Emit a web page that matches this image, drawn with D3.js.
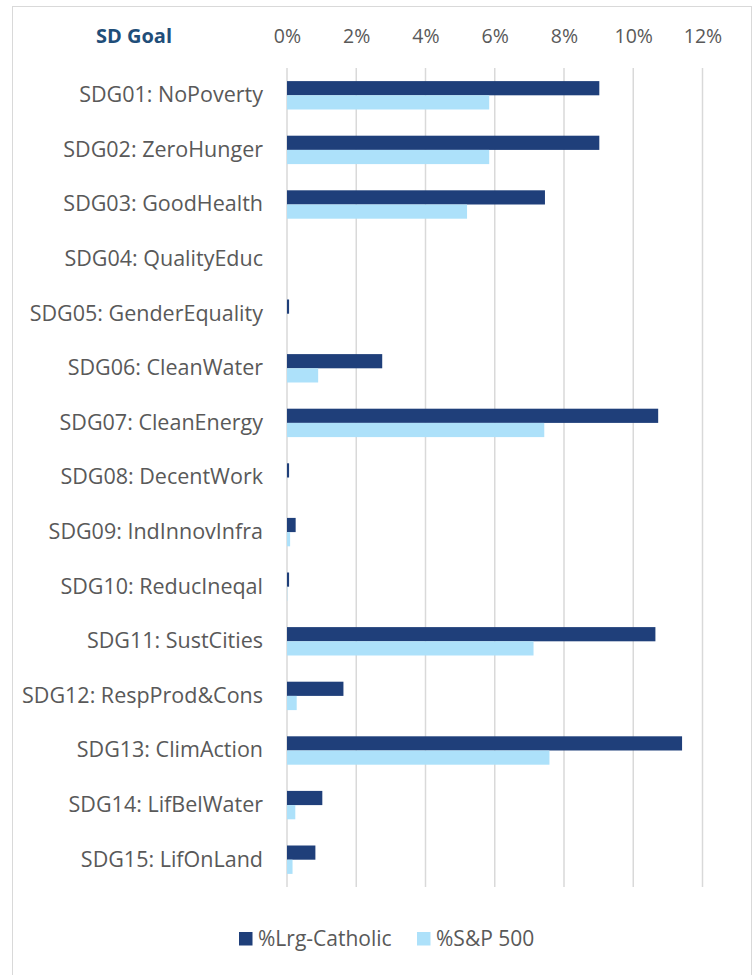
<!DOCTYPE html>
<html>
<head>
<meta charset="utf-8">
<script src="https://cdn.jsdelivr.net/npm/d3@7"></script>
<style>
  body { margin: 0; background: #fff; }
  svg { display: block; font-family: "Open Sans", Lato, sans-serif; }
</style>
</head>
<body>
<div id="chart"></div>
<script>
(function() {
  // data (percent)
  var goals = ["SDG01: NoPoverty", "SDG02: ZeroHunger", "SDG03: GoodHealth", "SDG04: QualityEduc",
    "SDG05: GenderEquality", "SDG06: CleanWater", "SDG07: CleanEnergy", "SDG08: DecentWork",
    "SDG09: IndInnovInfra", "SDG10: ReducIneqal", "SDG11: SustCities", "SDG12: RespProd&Cons",
    "SDG13: ClimAction", "SDG14: LifBelWater", "SDG15: LifOnLand"];
  var lrgCatholic = [9.02, 9.02, 7.45, 0, 0.06, 2.75, 10.72, 0.06, 0.25, 0.06, 10.64, 1.63, 11.41, 1.02, 0.82];
  var sp500 = [5.84, 5.84, 5.2, 0, 0, 0.9, 7.43, 0, 0.09, 0.01, 7.12, 0.28, 7.58, 0.24, 0.16];
  var seriesNames = ["%Lrg-Catholic", "%S&P 500"];
  var colors = ["#1F3F7A", "#ADE1FA"];
  var ticks = [0, 2, 4, 6, 8, 10, 12];

  var W = 753, H = 975;
  var fontFam = "'Open Sans', Lato, sans-serif";
  var svg = d3.select("#chart").append("svg")
    .attr("width", W).attr("height", H);

  // chart frame
  svg.append("rect")
    .attr("x", 12.5).attr("y", 6.5)
    .attr("width", 739).attr("height", 990)
    .attr("fill", "#fff")
    .attr("stroke", "#D9D9D9").attr("stroke-width", 1);

  var xScale = d3.scaleLinear().domain([0, 12]).range([287, 702.5]);
  var yScale = d3.scaleBand().domain(goals).range([68, 887])
    .paddingInner(0.48).paddingOuter(0.24);
  var sub = d3.scaleBand().domain([0, 1]).range([0, yScale.bandwidth()]);

  // gridlines
  svg.append("g").selectAll("line")
    .data(ticks).enter().append("line")
    .attr("x1", function(d) { return xScale(d); })
    .attr("x2", function(d) { return xScale(d); })
    .attr("y1", 68).attr("y2", 887)
    .attr("stroke", "#D9D9D9").attr("stroke-width", 1.5);

  // top axis labels
  var xAxis = d3.axisTop(xScale)
    .tickValues(ticks)
    .tickSize(0)
    .tickFormat(function(d) { return d + "%"; });
  var ax = svg.append("g")
    .attr("transform", "translate(0,30)")
    .call(xAxis);
  ax.select(".domain").remove();
  ax.selectAll("text")
    .attr("dy", "0.35em")
    .attr("y", 6)
    .attr("fill", "#595959")
    .style("font-size", "19.5px")
    .style("font-family", fontFam);

  svg.append("text")
    .attr("x", 134).attr("y", 36)
    .attr("dy", "0.35em")
    .attr("text-anchor", "middle")
    .attr("fill", "#1F4E79")
    .style("font-size", "20px")
    .style("font-weight", "bold")
    .text("SD Goal");

  // category labels
  var yAxis = d3.axisLeft(yScale).tickSize(0).tickPadding(0);
  var ay = svg.append("g")
    .attr("transform", "translate(263,0)")
    .call(yAxis);
  ay.select(".domain").remove();
  ay.selectAll("text")
    .attr("fill", "#595959")
    .style("font-size", "21.5px")
    .style("font-family", fontFam);

  // bars
  var rows = goals.map(function(g, i) {
    return { goal: g, values: [lrgCatholic[i], sp500[i]] };
  });
  var groups = svg.append("g").selectAll("g")
    .data(rows).enter().append("g")
    .attr("transform", function(d) { return "translate(0," + yScale(d.goal) + ")"; });
  groups.selectAll("rect")
    .data(function(d) { return d.values.map(function(v, k) { return { v: v, k: k }; }); })
    .enter().append("rect")
    .attr("x", xScale(0))
    .attr("y", function(d) { return sub(d.k); })
    .attr("height", sub.bandwidth())
    .attr("width", function(d) { return xScale(d.v) - xScale(0); })
    .attr("fill", function(d) { return colors[d.k]; });

  // legend
  var legendX = [239, 417];
  var legend = svg.append("g").selectAll("g")
    .data(seriesNames).enter().append("g")
    .attr("transform", function(d, i) { return "translate(" + legendX[i] + ",932)"; });
  legend.append("rect")
    .attr("width", 13.5).attr("height", 13.5)
    .attr("fill", function(d, i) { return colors[i]; });
  legend.append("text")
    .attr("x", 19).attr("y", 7)
    .attr("dy", "0.35em")
    .attr("fill", "#595959")
    .style("font-size", "21px")
    .text(function(d) { return d; });
})();
</script>
</body>
</html>
